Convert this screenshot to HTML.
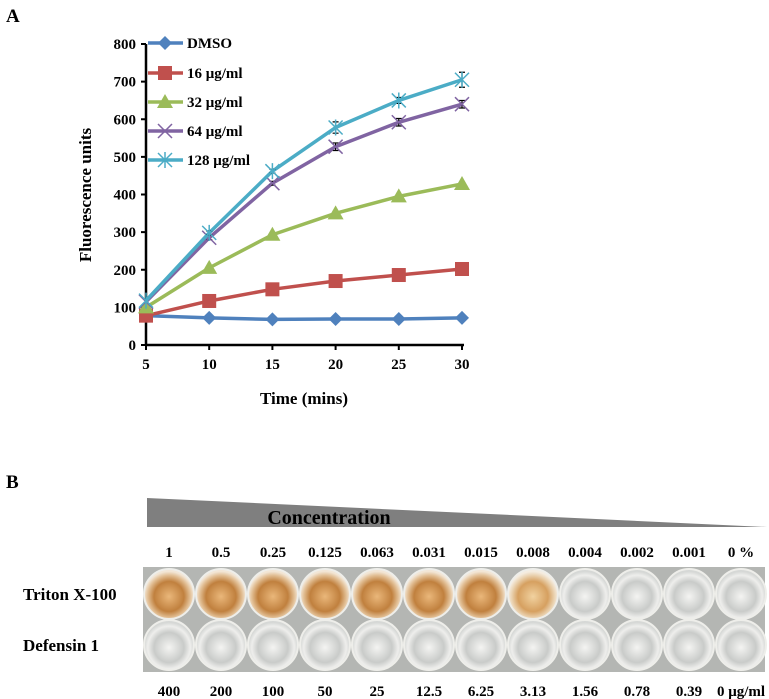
<!DOCTYPE html>
<html><head><meta charset="utf-8"><style>
body{margin:0;background:#fff;}
svg{display:block;font-family:"Liberation Serif",serif;font-weight:bold;}
</style></head><body>
<svg id="fig" width="769" height="699" viewBox="0 0 769 699" xmlns="http://www.w3.org/2000/svg">
<defs>
<radialGradient id="amber" cx="50%" cy="55%" r="50%"><stop offset="0" stop-color="#eab77a"/><stop offset="0.6" stop-color="#c0803e"/><stop offset="0.85" stop-color="#e2bf95"/><stop offset="1" stop-color="#f2e6d6"/></radialGradient>
<radialGradient id="amber2" cx="50%" cy="55%" r="50%"><stop offset="0" stop-color="#f1d2a0"/><stop offset="0.6" stop-color="#d6a060"/><stop offset="0.85" stop-color="#ead2b0"/><stop offset="1" stop-color="#f4ece0"/></radialGradient>
<radialGradient id="clear" cx="50%" cy="55%" r="50%"><stop offset="0" stop-color="#f4f4f2"/><stop offset="0.6" stop-color="#c9cbc9"/><stop offset="0.85" stop-color="#eeeeec"/><stop offset="1" stop-color="#d6d8d6"/></radialGradient>
</defs>
<text x="6" y="22" font-size="19">A</text>
<g id="chart"></g>
<text x="6" y="488" font-size="19">B</text>
<polygon points="147,498 767,527 147,527" fill="#7f7f7f"/>
<text x="329" y="524" font-size="20" text-anchor="middle">Concentration</text>
<rect x="143" y="567" width="622" height="105" fill="#b4b6b3"/>
<g id="plate"></g>
<text x="23" y="600" font-size="17">Triton X-100</text>
<text x="23" y="651" font-size="17">Defensin 1</text>
</svg>
<script>
const times=[5,10,15,20,25,30];
const seriesNames=["DMSO","16 μg/ml","32 μg/ml","64 μg/ml","128 μg/ml"];
const dmso=[78,72,68,69,69,72];
const c16=[78,117,148,170,186,202];
const c32=[100,205,293,350,395,428];
const c64=[115,285,430,527,592,640];
const c128=[118,298,462,578,650,705];
const err64=[0,5,5,10,10,10];
const err128=[0,5,5,15,8,20];
const yTicks=[0,100,200,300,400,500,600,700,800];
const xTicks=[5,10,15,20,25,30];
const tritonLabels=["1","0.5","0.25","0.125","0.063","0.031","0.015","0.008","0.004","0.002","0.001","0 %"];
const defensinLabels=["400","200","100","50","25","12.5","6.25","3.13","1.56","0.78","0.39","0 μg/ml"];
const tritonLysis=[1,1,1,1,1,1,1,0.7,0,0,0,0];

const NS="http://www.w3.org/2000/svg";
function mk(tag,attrs,parent){const e=document.createElementNS(NS,tag);for(const k in attrs)e.setAttribute(k,attrs[k]);parent.appendChild(e);return e;}
const X0=146,X1=462,Y0=345,Y1=44;
const xs=t=>X0+(t-5)/(30-5)*(X1-X0);
const ys=v=>Y0-v/800*(Y0-Y1);
const g=document.getElementById('chart');

let ax=mk('line',{x1:X0,y1:Y1,x2:X0,y2:Y0,stroke:'#000','stroke-width':2.5},g);


ax=mk('line',{x1:X0,y1:Y0,x2:X1+2,y2:Y0,stroke:'#000','stroke-width':2.5},g);


yTicks.forEach(v=>{
 mk('line',{x1:X0-5,y1:ys(v),x2:X0,y2:ys(v),stroke:'#000','stroke-width':2},g);
 const t=mk('text',{x:X0-10,y:ys(v)+5,'font-size':15,'text-anchor':'end'},g);t.textContent=v;
 
 
});
xTicks.forEach(v=>{
 mk('line',{x1:xs(v),y1:Y0,x2:xs(v),y2:Y0+5,stroke:'#000','stroke-width':2},g);
 const t=mk('text',{x:xs(v),y:Y0+24,'font-size':15,'text-anchor':'middle'},g);t.textContent=v;
 
 
});
let t=mk('text',{x:304,y:404,'font-size':17,'text-anchor':'middle'},g);t.textContent="Time (mins)";


t=mk('text',{x:0,y:0,'font-size':17,'text-anchor':'middle',transform:'translate(91,195) rotate(-90)'},g);t.textContent="Fluorescence units";



const colors=["#4f81bd","#c0504d","#9bbb59","#8064a2","#4bacc6"];
const markers=["diamond","square","triangle","x","star"];
const data=[dmso,c16,c32,c64,c128];
const errs=[null,null,null,err64,err128];
function marker(type,cx,cy,col,parent){
 if(type==="diamond")mk('polygon',{points:`${cx},${cy-7} ${cx+7},${cy} ${cx},${cy+7} ${cx-7},${cy}`,fill:col},parent);
 else if(type==="square")mk('rect',{x:cx-7,y:cy-7,width:14,height:14,fill:col},parent);
 else if(type==="triangle")mk('polygon',{points:`${cx},${cy-8} ${cx+8},${cy+6} ${cx-8},${cy+6}`,fill:col},parent);
 else if(type==="x"){mk('path',{d:`M${cx-7} ${cy-7}L${cx+7} ${cy+7}M${cx+7} ${cy-7}L${cx-7} ${cy+7}`,stroke:col,'stroke-width':1.5},parent);}
 else {mk('path',{d:`M${cx-7} ${cy-7}L${cx+7} ${cy+7}M${cx+7} ${cy-7}L${cx-7} ${cy+7}M${cx} ${cy-8}L${cx} ${cy+8}`,stroke:col,'stroke-width':1.5},parent);}
}
data.forEach((arr,si)=>{
 const sg=mk('g',{},g);
 
 
 mk('polyline',{points:arr.map((v,i)=>xs(times[i])+','+ys(v)).join(' '),fill:'none',stroke:colors[si],'stroke-width':3.5,'stroke-linejoin':'round'},sg);
 arr.forEach((v,i)=>{
  if(errs[si]&&errs[si][i]){const e=errs[si][i];const x=xs(times[i]);
   mk('path',{d:`M${x} ${ys(v+e)}L${x} ${ys(v-e)}M${x-3} ${ys(v+e)}L${x+3} ${ys(v+e)}M${x-3} ${ys(v-e)}L${x+3} ${ys(v-e)}`,stroke:'#000','stroke-width':1.2},sg);}
  marker(markers[si],xs(times[i]),ys(v),colors[si],sg);
 });
});
const legY=[43,73,102,131,160];
seriesNames.forEach((n,i)=>{
 const lg=mk('g',{},g);
 
 
 mk('line',{x1:148,y1:legY[i],x2:183,y2:legY[i],stroke:colors[i],'stroke-width':3.5},lg);
 marker(markers[i],165,legY[i],colors[i],lg);
 const tt=mk('text',{x:187,y:legY[i]+5,'font-size':15},lg);tt.textContent=n;
});

const p=document.getElementById('plate');
tritonLabels.forEach((lab,i)=>{
 const cx=143+26+52*i;
 let tx=mk('text',{x:cx,y:557,'font-size':15,'text-anchor':'middle'},p);tx.textContent=lab;
 
 
 tx=mk('text',{x:cx,y:696,'font-size':15,'text-anchor':'middle'},p);tx.textContent=defensinLabels[i];
 
 
 const lys=tritonLysis[i];
 let w=mk('circle',{cx:cx,cy:594,r:25,fill:lys>=1?'url(#amber)':(lys>0?'url(#amber2)':'url(#clear)'),stroke:'#eeeeea','stroke-width':2},p);
 
 
 w=mk('circle',{cx:cx,cy:645,r:25,fill:'url(#clear)',stroke:'#eeeeea','stroke-width':2},p);
 
 
});
</script>
</body></html>
